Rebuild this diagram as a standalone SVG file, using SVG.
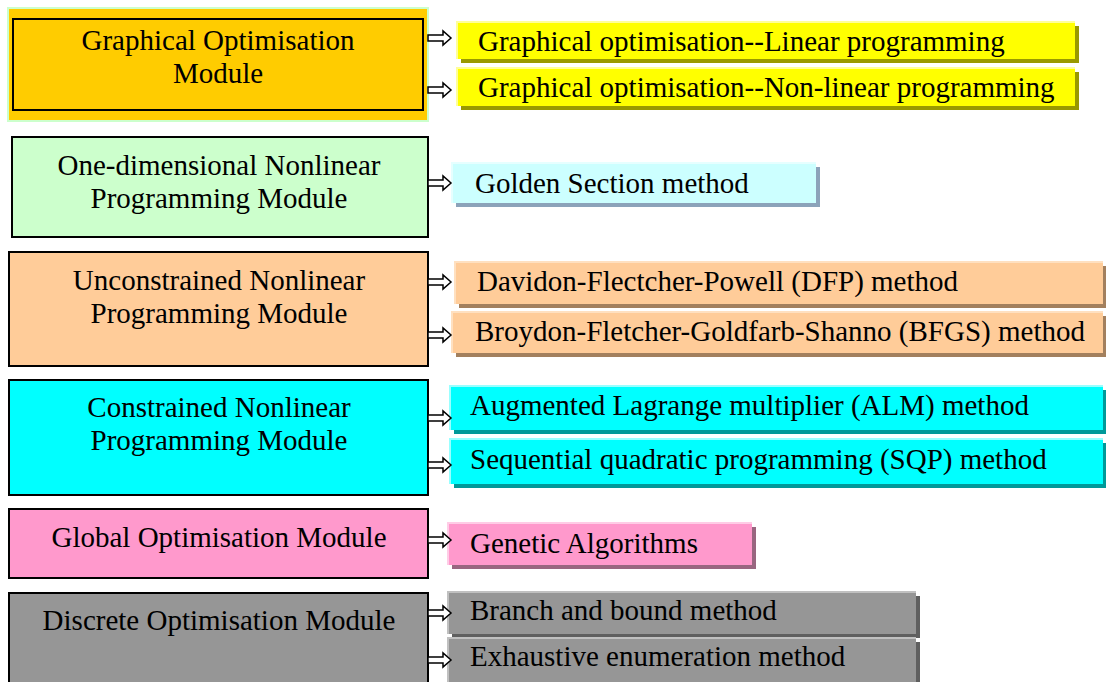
<svg xmlns="http://www.w3.org/2000/svg" xmlns:xlink="http://www.w3.org/1999/xlink" width="1106" height="682" viewBox="0 0 1106 682">
<style>
  text { font-family: "Liberation Serif", "Times New Roman", serif; font-size: 29px; fill: #000; }
  .mod { text-anchor: middle; }
  .mbox { stroke: #000; stroke-width: 2; }
  .arrow { fill: #fff; stroke: #000; stroke-width: 1.5; stroke-linejoin: miter; }
</style>
<defs>
  <polygon id="arr" class="arrow" points="0,-3 15,-3 15,-7 23,0 15,7 15,3 0,3"/>
</defs>
<rect width="1106" height="682" fill="#fff"/>

<g id="mod-graphical">
  <rect x="8" y="8" width="420" height="113" fill="#FFCC00" stroke="#CCFFCC" stroke-width="2"/>
  <rect class="mbox" x="13" y="19" width="410" height="91" fill="none"/>
  <text class="mod" x="218" y="50">Graphical Optimisation</text>
  <text class="mod" x="218" y="83">Module</text>
</g>
<g id="m-linear">
  <rect x="461" y="26" width="618" height="37" fill="#999900"/>
  <rect x="457" y="22" width="618" height="37" fill="#FFFF00"/>
  <path d="M457,59 V22 H1075" fill="none" stroke="#FFFF99" stroke-width="2"/>
  <text x="478" y="51">Graphical optimisation--Linear programming</text>
</g>
<g id="m-nonlinear">
  <rect x="461" y="72" width="618" height="38" fill="#999900"/>
  <rect x="457" y="68" width="618" height="38" fill="#FFFF00"/>
  <path d="M457,106 V68 H1075" fill="none" stroke="#FFFF99" stroke-width="2"/>
  <text x="478" y="97">Graphical optimisation--Non-linear programming</text>
</g>

<g id="mod-onedim">
  <rect class="mbox" x="12" y="137" width="416" height="100" fill="#CCFFCC"/>
  <text class="mod" x="219" y="175">One-dimensional Nonlinear</text>
  <text class="mod" x="219" y="208">Programming Module</text>
</g>
<g id="m-golden">
  <rect x="456" y="167" width="364" height="40" fill="#8CA3BA"/>
  <rect x="452" y="163" width="364" height="40" fill="#CCFFFF"/>
  <path d="M452,203 V163 H816" fill="none" stroke="#E6FFFF" stroke-width="2"/>
  <text x="475" y="193">Golden Section method</text>
</g>

<g id="mod-unconstrained">
  <rect class="mbox" x="9" y="252" width="419" height="114" fill="#FFCC99"/>
  <text class="mod" x="219" y="290">Unconstrained Nonlinear</text>
  <text class="mod" x="219" y="323">Programming Module</text>
</g>
<g id="m-dfp">
  <rect x="459" y="266" width="647" height="42" fill="#A3805E"/>
  <rect x="455" y="262" width="648" height="42" fill="#FFCC99"/>
  <path d="M455,304 V262 H1103" fill="none" stroke="#FFE0C0" stroke-width="2"/>
  <text x="477" y="291">Davidon-Flectcher-Powell (DFP) method</text>
</g>
<g id="m-bfgs">
  <rect x="456" y="316" width="650" height="41" fill="#A3805E"/>
  <rect x="452" y="312" width="651" height="41" fill="#FFCC99"/>
  <path d="M452,353 V312 H1103" fill="none" stroke="#FFE0C0" stroke-width="2"/>
  <text x="475" y="341">Broydon-Fletcher-Goldfarb-Shanno (BFGS) method</text>
</g>

<g id="mod-constrained">
  <rect class="mbox" x="9" y="380" width="419" height="115" fill="#00FFFF"/>
  <text class="mod" x="219" y="417">Constrained Nonlinear</text>
  <text class="mod" x="219" y="450">Programming Module</text>
</g>
<g id="m-alm">
  <rect x="454" y="390" width="652" height="44" fill="#009999"/>
  <rect x="450" y="386" width="653" height="44" fill="#00FFFF"/>
  <path d="M450,430 V386 H1103" fill="none" stroke="#99FFFF" stroke-width="2"/>
  <text x="470" y="415">Augmented Lagrange multiplier (ALM) method</text>
</g>
<g id="m-sqp">
  <rect x="454" y="443" width="652" height="45" fill="#009999"/>
  <rect x="450" y="439" width="653" height="45" fill="#00FFFF"/>
  <path d="M450,484 V439 H1103" fill="none" stroke="#99FFFF" stroke-width="2"/>
  <text x="470" y="469">Sequential quadratic programming (SQP) method</text>
</g>

<g id="mod-global">
  <rect class="mbox" x="9" y="509" width="419" height="69" fill="#FF99CC"/>
  <text class="mod" x="219" y="547">Global Optimisation Module</text>
</g>
<g id="m-ga">
  <rect x="452" y="527" width="304" height="42" fill="#996680"/>
  <rect x="448" y="523" width="304" height="42" fill="#FF99CC"/>
  <path d="M448,565 V523 H752" fill="none" stroke="#FFCCE6" stroke-width="2"/>
  <text x="470" y="553">Genetic Algorithms</text>
</g>

<g id="mod-discrete">
  <rect class="mbox" x="9" y="593" width="419" height="100" fill="#969696"/>
  <text class="mod" x="219" y="630">Discrete Optimisation Module</text>
</g>
<g id="m-bnb">
  <rect x="452" y="596" width="468" height="42" fill="#5F5F5F"/>
  <rect x="448" y="592" width="468" height="42" fill="#969696"/>
  <path d="M448,634 V592 H916" fill="none" stroke="#C0C0C0" stroke-width="2"/>
  <text x="470" y="620">Branch and bound method</text>
</g>
<g id="m-exh">
  <rect x="452" y="642" width="468" height="50" fill="#5F5F5F"/>
  <rect x="448" y="638" width="468" height="50" fill="#969696"/>
  <path d="M448,688 V638 H916" fill="none" stroke="#C0C0C0" stroke-width="2"/>
  <text x="470" y="666">Exhaustive enumeration method</text>
</g>

<g id="connectors">
  <use xlink:href="#arr" x="428" y="38"/>
  <use xlink:href="#arr" x="428" y="90"/>
  <use xlink:href="#arr" x="428" y="183"/>
  <use xlink:href="#arr" x="428" y="282"/>
  <use xlink:href="#arr" x="428" y="335"/>
  <use xlink:href="#arr" x="428" y="418"/>
  <use xlink:href="#arr" x="428" y="465"/>
  <use xlink:href="#arr" x="428" y="540"/>
  <use xlink:href="#arr" x="428" y="613"/>
  <use xlink:href="#arr" x="428" y="660"/>
</g>
</svg>
